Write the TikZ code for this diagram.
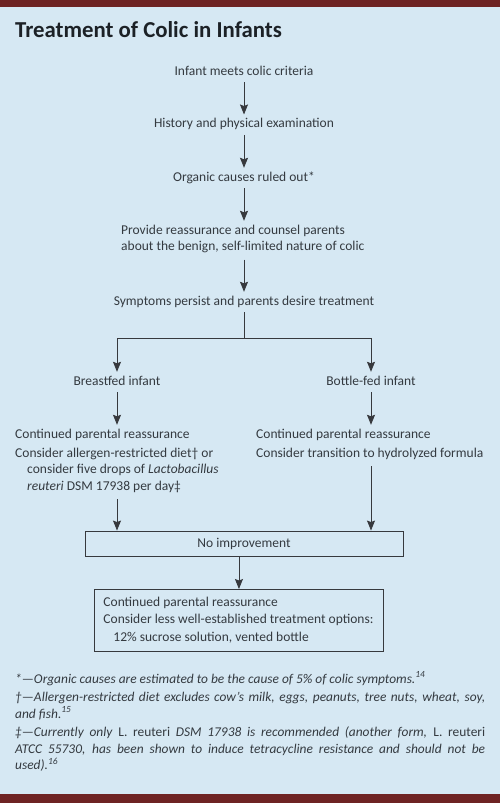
\documentclass[tikz,border=0pt]{standalone}
\usepackage{fontspec}
\setmainfont{Carlito}
\usetikzlibrary{arrows.meta}
\definecolor{bg}{RGB}{214,232,243}
\definecolor{barcol}{RGB}{110,35,35}
\definecolor{txt}{RGB}{52,58,64}
\definecolor{ttl}{RGB}{28,33,38}
\definecolor{lncol}{RGB}{55,57,61}
\newcommand{\tbl}[1]{\begin{tabular}[t]{@{}l@{}}#1\end{tabular}}
\begin{document}
\begin{tikzpicture}[x=1pt,y=-1pt,
  every node/.style={text=txt, font=\fontsize{13.5}{16.5}\selectfont},
  lbl/.style={anchor=base, inner xsep=0pt, inner ysep=4pt, text height=9pt, text depth=3pt},
  blk/.style={anchor=base west, inner xsep=0pt, inner ysep=4pt, text height=9pt},
  arr/.style={draw=lncol, line width=0.9pt, -{Stealth[length=10pt,width=8pt,inset=1.5pt]}},
  conn/.style={draw=lncol, line width=0.9pt},
  box/.style={draw=lncol, line width=0.9pt},
]
\useasboundingbox (0,0) rectangle (500,803);
\fill[bg] (0,0) rectangle (500,803);
\fill[barcol] (0,0) rectangle (500,7);
\fill[barcol] (0,794) rectangle (500,803);

\node[anchor=base west, inner sep=0pt, text=ttl, font=\fontsize{22.8}{26}\selectfont\bfseries] (title) at (15,37) {Treatment of Colic in Infants};

\node[lbl] (n1) at (244,75) {Infant meets colic criteria};
\node[lbl] (n2) at (244,127.7) {History and physical examination};
\node[lbl] (n3) at (244,181) {Organic causes ruled out*};
\node[blk] (n4) at (121,234) {\tbl{Provide reassurance and counsel parents\\about the benign, self-limited nature of colic}};
\node[lbl] (n5) at (244,305) {Symptoms persist and parents desire treatment};
\node[lbl] (bf) at (117,385) {Breastfed infant};
\node[lbl] (bo) at (371,385) {Bottle-fed infant};
\node[blk] (bfc) at (15,438) {\tbl{Continued parental reassurance\\[2.5pt]
  Consider allergen-restricted diet\textdagger{} or\\
  \hspace{12pt}consider five drops of \textit{Lactobacillus}\\
  \hspace{12pt}\textit{reuteri} DSM 17938 per day\textdaggerdbl}};
\node[blk] (boc) at (256,438) {\tbl{Continued parental reassurance\\[2.5pt]
  Consider transition to hydrolyzed formula}};
\node[box, minimum width=318pt, minimum height=25pt, inner sep=0pt, text height=8pt, text depth=1pt] (ni) at (244,543.5) {No improvement};
\node[box, anchor=north west, inner xsep=9pt, inner ysep=4.75pt, font=\fontsize{13.5}{17.5}\selectfont] (fin) at (94,589)
  {\makebox[271pt][l]{\tbl{Continued parental reassurance\\
  Consider less well-established treatment options:\\
  \hspace{10pt}12\% sucrose solution, vented bottle}}};

\node[anchor=base west, inner sep=0pt, font=\fontsize{13.4}{16.3}\selectfont\itshape] (fn) at (15,683)
  {\parbox[t]{470pt}{\setlength{\parskip}{2.5pt}\setlength{\parindent}{0pt}%
  *---Organic causes are estimated to be the cause of 5\% of colic symptoms.\textsuperscript{14}\par
  \textdagger---Allergen-restricted diet excludes cow's milk, eggs, peanuts, tree nuts, wheat, soy,\linebreak and fish.\textsuperscript{15}\par
  \textdaggerdbl---Currently only \textup{L.~reuteri} DSM 17938 is recommended (another form, \textup{L.~reuteri}\linebreak ATCC 55730, has been shown to induce tetracycline resistance and should not be\linebreak used).\textsuperscript{16}}};

\draw[arr] (n1) -- (n2);
\draw[arr] (n2) -- (n3);
\draw[arr] (n3.south) -- (n3.south |- n4.north);
\draw[arr] (n3.south |- n4.south) -- (n5.north);
\coordinate (split) at (244,338);
\draw[conn] (n5.south) -- (split);
\draw[arr] (split) -| (bf.north);
\draw[arr] (split) -| (bo.north);
\draw[arr] (bf) -- (bf.south |- bfc.north);
\draw[arr] (bo) -- (bo.south |- boc.north);
\draw[arr] (bf.south |- bfc.south) -- (bf.south |- ni.north);
\draw[arr] (bo.south |- boc.south) -- (bo.south |- ni.north);
\draw[arr] (fin.north |- ni.south) -- (fin.north);
\end{tikzpicture}
\end{document}
